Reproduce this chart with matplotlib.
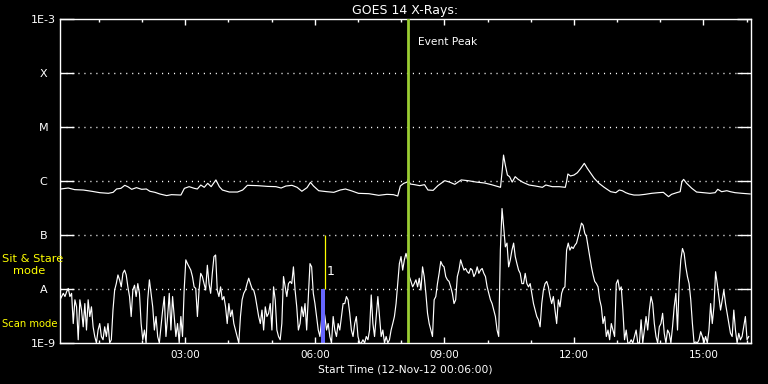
import numpy as np
import matplotlib
matplotlib.use('Agg')
import matplotlib.pyplot as plt
from matplotlib.ticker import FixedLocator, MultipleLocator, FuncFormatter, NullLocator

# ---------------- data (hours of day, 12-Nov-2012; log10 flux W/m^2) ----------------
start_hour = 0.1          # 00:06
end_hour = 16.1           # 16:06
short_step_min = 2.3      # sampling step of the short (0.5-4 A) channel

short_log_flux = [
    # 00:06 - 02:47
    -8.20, -8.14, -8.08, -8.14, -8.05, -7.99, -8.14, -8.08, -8.64, -8.20,
    -8.33, -8.94, -8.20, -8.39, -8.70, -8.27, -8.76, -8.20, -8.51, -8.33,
    -8.70, -8.88, -9.00, -8.76, -8.64, -8.88, -8.94, -8.70, -8.88, -8.64,
    -9.00, -8.94, -8.39, -8.02, -7.90, -7.74, -7.83, -7.96, -7.71, -7.65,
    -7.74, -7.96, -8.14, -8.51, -8.02, -7.93, -8.14, -7.90, -8.08, -8.64,
    -8.94, -8.76, -9.00, -8.20, -7.83, -8.08, -8.33, -8.76, -8.51, -8.88,
    -9.00, -8.70, -8.39, -8.14, -8.88, -8.51, -8.08, -8.76, -8.14, -8.51,
    # 02:47 - 05:28
    -8.88, -8.64, -9.00, -8.51, -8.88, -8.02, -7.46, -7.53, -7.59, -7.65,
    -7.77, -7.96, -7.99, -8.51, -8.02, -7.71, -7.77, -7.90, -8.02, -7.56,
    -7.90, -8.08, -7.71, -7.40, -7.37, -8.02, -8.14, -7.96, -8.20, -8.14,
    -8.33, -8.64, -8.27, -8.51, -8.39, -8.64, -8.76, -8.88, -9.00, -8.51,
    -8.20, -8.08, -8.02, -7.90, -7.80, -7.90, -7.99, -8.02, -8.14, -8.33,
    -8.51, -8.64, -8.39, -8.76, -8.33, -8.51, -8.45, -8.27, -8.76, -7.96,
    -8.20, -8.76, -8.88, -8.94, -8.64, -7.77, -7.96, -8.14, -7.90, -7.86,
    # 05:28 - 08:09
    -7.90, -7.59, -8.02, -8.33, -8.76, -8.64, -8.33, -8.51, -8.27, -8.76,
    -8.14, -7.53, -7.59, -8.08, -8.27, -8.51, -8.76, -8.88, -8.57, -8.33,
    -8.51, -8.76, -8.64, -8.88, -9.00, -8.51, -8.76, -8.88, -8.64, -8.76,
    -8.51, -8.27, -8.27, -8.14, -8.20, -8.45, -8.76, -8.88, -8.64, -8.51,
    -8.88, -9.00, -9.00, -8.94, -9.00, -8.88, -8.94, -8.76, -8.11, -8.64,
    -8.88, -8.51, -8.14, -8.51, -8.88, -8.76, -9.00, -8.88, -9.00, -8.94,
    -8.76, -8.64, -8.51, -8.27, -7.90, -7.53, -7.40, -7.65, -7.46, -7.34,
    # 08:09 - 10:50
    -7.46, -7.77, -7.86, -7.96, -7.90, -7.83, -7.96, -7.80, -8.02, -7.59,
    -7.77, -8.08, -8.45, -8.64, -8.76, -8.88, -8.20, -8.14, -7.90, -7.71,
    -7.49, -7.56, -7.59, -7.77, -7.83, -7.86, -7.96, -8.08, -8.27, -8.20,
    -7.77, -7.65, -7.46, -7.56, -7.65, -7.62, -7.68, -7.71, -7.62, -7.65,
    -7.77, -7.71, -7.59, -7.71, -7.65, -7.62, -7.71, -7.77, -7.96, -8.08,
    -8.20, -8.27, -8.39, -8.51, -8.76, -8.88, -7.28, -6.51, -6.85, -7.22,
    -7.15, -7.59, -7.46, -7.28, -7.15, -7.40, -7.53, -7.65, -7.71, -7.90,
    # 10:50 - 13:31
    -7.90, -7.71, -7.90, -7.96, -7.90, -8.08, -8.27, -8.39, -8.51, -8.57,
    -8.70, -8.27, -8.02, -7.90, -7.86, -7.96, -8.14, -8.27, -8.14, -8.39,
    -8.64, -8.20, -8.33, -8.08, -7.99, -7.96, -7.28, -7.15, -7.28, -7.22,
    -7.25, -7.19, -7.15, -7.03, -6.91, -6.78, -6.82, -6.97, -7.03, -7.22,
    -7.40, -7.59, -7.74, -7.86, -7.90, -7.96, -8.20, -8.33, -8.64, -8.51,
    -8.88, -8.76, -8.94, -8.64, -8.76, -8.88, -7.90, -7.83, -8.02, -7.96,
    -8.39, -8.94, -8.76, -9.00, -9.00, -8.94, -9.00, -8.88, -8.76, -9.00,
    # 13:31 - 16:06
    -9.00, -8.57, -9.00, -8.76, -8.51, -8.76, -8.39, -8.14, -8.27, -8.64,
    -8.88, -9.00, -8.70, -8.64, -8.45, -8.82, -9.00, -8.76, -8.82, -9.00,
    -8.70, -8.33, -8.08, -8.76, -7.90, -7.46, -7.25, -7.34, -7.59, -7.77,
    -7.90, -8.20, -8.64, -9.00, -8.98, -9.00, -8.94, -8.79, -8.88, -9.00,
    -8.88, -9.00, -8.76, -8.27, -8.64, -8.33, -7.68, -7.90, -8.14, -8.39,
    -8.20, -8.02, -8.27, -8.45, -8.64, -8.82, -8.88, -8.39, -8.76, -9.00,
    -8.82, -8.94, -8.88, -8.70, -8.51, -8.94, -8.88,
]

long_hours = [
    0.12, 0.29, 0.44, 0.64, 0.83, 1.02, 1.22, 1.33, 1.41, 1.51, 1.60, 1.68, 1.76, 1.87,
    1.99, 2.10, 2.18, 2.30, 2.41, 2.57, 2.68, 2.90, 2.98, 3.09, 3.21, 3.28, 3.36, 3.44,
    3.52, 3.60, 3.71, 3.79, 3.86, 4.02, 4.21, 4.33, 4.44, 4.67, 4.91, 5.10, 5.22, 5.33,
    5.47, 5.59, 5.70, 5.82, 5.90, 5.97, 6.09, 6.28, 6.44, 6.59, 6.71, 6.86, 7.01, 7.25,
    7.48, 7.67, 7.82, 7.92, 7.98, 8.06, 8.14, 8.16, 8.21, 8.31, 8.43, 8.54, 8.62, 8.74,
    8.85, 9.01, 9.12, 9.24, 9.39, 9.55, 9.74, 9.93, 10.09, 10.20, 10.30, 10.34, 10.37,
    10.41, 10.46, 10.51, 10.57, 10.64, 10.71, 10.82, 10.96, 11.11, 11.27, 11.35, 11.50,
    11.66, 11.80, 11.83, 11.86, 11.92, 12.00, 12.08, 12.16, 12.24, 12.31, 12.39, 12.47,
    12.58, 12.70, 12.85, 12.97, 13.05, 13.12, 13.20, 13.28, 13.39, 13.51, 13.65, 13.80,
    13.96, 14.07, 14.19, 14.26, 14.38, 14.46, 14.50, 14.54, 14.61, 14.73, 14.84, 15.00,
    15.15, 15.27, 15.33, 15.42, 15.54, 15.62, 15.73, 15.89, 16.08,
]
long_log_flux = [
    -6.148, -6.13, -6.16, -6.167, -6.19, -6.216, -6.228, -6.21, -6.148, -6.136, -6.08, -6.11, -6.154, -6.123,
    -6.154, -6.148, -6.19, -6.21, -6.24, -6.27, -6.253, -6.26, -6.136, -6.105, -6.136, -6.148, -6.074, -6.117,
    -6.043, -6.105, -5.98, -6.105, -6.167, -6.204, -6.204, -6.167, -6.08, -6.086, -6.1, -6.105, -6.13, -6.093,
    -6.08, -6.117, -6.19, -6.123, -6.025, -6.093, -6.18, -6.198, -6.21, -6.167, -6.148, -6.185, -6.228, -6.235,
    -6.265, -6.247, -6.253, -6.278, -6.093, -6.043, -6.02, -5.97, -6.056, -6.068, -6.086, -6.068, -6.167, -6.173,
    -6.086, -5.994, -6.02, -6.062, -5.98, -5.994, -6.02, -6.037, -6.068, -6.093, -6.117, -5.80, -5.52,
    -5.70, -5.89, -5.92, -6.02, -5.92, -5.97, -6.025, -6.074, -6.093, -6.117, -6.074, -6.105,
    -6.105, -6.117, -6.012, -5.87, -5.907, -5.89, -5.846, -5.765, -5.673, -5.765, -5.858, -5.95,
    -6.043, -6.117, -6.198, -6.216, -6.167, -6.18, -6.216, -6.24, -6.26, -6.26, -6.247, -6.228,
    -6.216, -6.21, -6.29, -6.247, -6.216, -6.198, -6.012, -5.97, -6.043, -6.136, -6.204, -6.216,
    -6.228, -6.216, -6.154, -6.198, -6.18, -6.198, -6.216, -6.228, -6.24,
]

event_peak_hour = 8.161
scan_mode_span = (6.15, 6.226)
sit_stare_hour = 6.225
flare_number = '1'
decade_values = [1e-9, 1e-8, 1e-7, 1e-6, 1e-5, 1e-4, 1e-3]
decade_labels = ['1E-9', 'A', 'B', 'C', 'M', 'X', '1E-3']
major_hours = [3, 6, 9, 12, 15]

# ---------------- figure ----------------
W, H = 768, 384
fig = plt.figure(figsize=(W / 100, H / 100), dpi=100, facecolor='black')
ax = fig.add_axes([60 / W, 41 / H, 691 / W, 324 / H])
ax.set_facecolor('black')

short_hours = start_hour + np.arange(len(short_log_flux)) * short_step_min / 60.0

ax.set_yscale('log')
ax.set_ylim(decade_values[0], decade_values[-1])
ax.set_xlim(start_hour, end_hour)

# dotted class grid
for yv in decade_values[1:-1]:
    ax.axhline(yv, color='white', lw=1.0, ls=(0, (0.8, 3.5)), zorder=0.5)

ax.plot(long_hours, 10 ** np.array(long_log_flux), color='white', lw=0.85, zorder=2)
ax.plot(short_hours, 10 ** np.array(short_log_flux), color='white', lw=0.85, zorder=2)

# scan / sit&stare marks
ax.fill_between(list(scan_mode_span), decade_values[0], decade_values[1],
                color='#6666ff', lw=0, zorder=2.5)
ax.vlines(sit_stare_hour, decade_values[1], decade_values[2], color='yellow', lw=0.9, zorder=3)
ax.text(sit_stare_hour + 0.045, 10 ** -7.685, flare_number, color='white', fontsize=9,
        ha='left', va='center')

# event peak
ax.axvline(event_peak_hour, color='#9acd32', lw=2.0, zorder=3)
ax.text(event_peak_hour + 0.24, 10 ** -3.435, 'Event Peak', color='white', fontsize=7.7,
        ha='left', va='center')

# axes styling
for sp in ax.spines.values():
    sp.set_color('white')
    sp.set_linewidth(1.0)

ax.yaxis.set_major_locator(FixedLocator(decade_values))
ax.yaxis.set_minor_locator(NullLocator())
ax.set_yticklabels(decade_labels)
ax.tick_params(axis='y', which='major', direction='in', length=10, width=1,
               colors='white', left=True, right=True, labelsize=8, pad=12)
for lab in ax.get_yticklabels():
    lab.set_horizontalalignment('center')

ax.xaxis.set_major_locator(FixedLocator(major_hours))
ax.xaxis.set_minor_locator(MultipleLocator(1))
ax.xaxis.set_major_formatter(FuncFormatter(lambda h, p: f'{int(round(h)):02d}:00'))
ax.tick_params(axis='x', which='major', direction='in', length=4.3, width=1,
               colors='white', top=True, bottom=True, labelsize=7.5, pad=5)
ax.tick_params(axis='x', which='minor', direction='in', length=2.2, width=1,
               colors='white', top=True, bottom=True)

ax.set_title('GOES 14 X-Rays:', color='white', fontsize=9, pad=3.5)
ax.set_xlabel('Start Time (12-Nov-12 00:06:00)', color='white', fontsize=7.7, labelpad=3)

fig.text(2 / W, 1 - 259 / H, 'Sit & Stare', color='yellow', fontsize=8.2,
         ha='left', va='center')
fig.text(13 / W, 1 - 271 / H, 'mode', color='yellow', fontsize=8.2,
         ha='left', va='center')
fig.text(2 / W, 1 - 324 / H, 'Scan mode', color='yellow', fontsize=7.2,
         ha='left', va='center')

fig.savefig('out.png', dpi=100, facecolor='black')
